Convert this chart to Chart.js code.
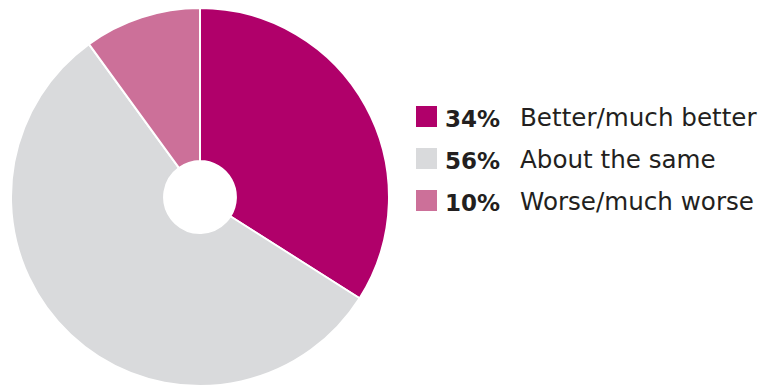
<!DOCTYPE html>
<html>
<head>
<meta charset="utf-8">
<script src="https://cdn.jsdelivr.net/npm/chart.js@4/dist/chart.umd.min.js"></script>
<style>
  html, body { margin: 0; padding: 0; background: #fff; overflow: hidden; }
  body { width: 773px; height: 386px; position: relative; font-family: "DejaVu Sans", sans-serif; color: #231f20; }
  #pieBox { position: absolute; left: 10px; top: 7px; width: 380px; height: 380px; }
  .row { position: absolute; left: 416px; height: 21px; width: 357px; }
  .swatch { position: absolute; left: 0; top: 0; width: 21px; height: 21px; }
  .pct { position: absolute; left: 29px; top: 1px; line-height: 24px; font-size: 23px; font-weight: bold; white-space: nowrap; }
  .lbl { position: absolute; left: 104px; top: 0px; line-height: 24px; font-size: 24.6px; white-space: nowrap; }
</style>
</head>
<body>
<div id="pieBox"><canvas id="pie"></canvas></div>
<div id="legend"></div>
<script>
// 回答の分布
const labels = ['Better/much better', 'About the same', 'Worse/much worse'];
const shares = [34, 56, 10];
const colors = ['#b0006a', '#d9dadc', '#cc7099'];

new Chart(document.getElementById('pie'), {
  type: 'doughnut',
  data: {
    labels: labels,
    datasets: [{
      data: shares,
      backgroundColor: colors,
      borderColor: '#ffffff',
      borderWidth: 2
    }]
  },
  options: {
    responsive: true,
    maintainAspectRatio: false,
    animation: false,
    cutout: '19%',
    layout: { padding: 0 },
    plugins: {
      legend: { display: false },
      tooltip: { enabled: false }
    }
  }
});

// 凡例（太字の割合 + ラベル）
const legend = document.getElementById('legend');
labels.forEach((label, i) => {
  const row = document.createElement('div');
  row.className = 'row';
  row.style.top = (106 + i * 42.2) + 'px';

  const sw = document.createElement('div');
  sw.className = 'swatch';
  sw.style.background = colors[i];

  const pct = document.createElement('span');
  pct.className = 'pct';
  pct.textContent = shares[i] + '%';

  const lbl = document.createElement('span');
  lbl.className = 'lbl';
  lbl.textContent = label;

  row.appendChild(sw);
  row.appendChild(pct);
  row.appendChild(lbl);
  legend.appendChild(row);
});
</script>
</body>
</html>
